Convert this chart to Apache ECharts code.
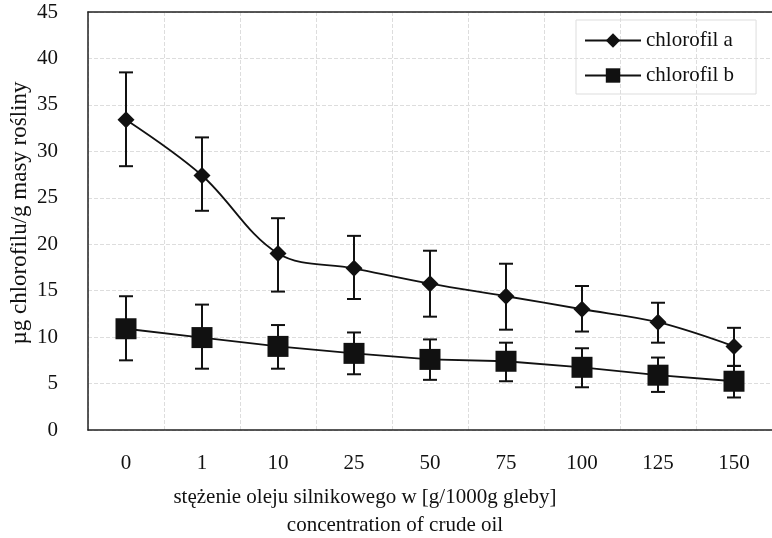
<!DOCTYPE html>
<html>
<head>
<meta charset="utf-8">
<script src="https://cdn.jsdelivr.net/npm/echarts@6/dist/echarts.min.js"></script>
<style>
  html, body { margin: 0; padding: 0; background: #fff; }
  #main { width: 772px; height: 538px; }
</style>
</head>
<body>
<div id="main"></div>
<script>
var dom = document.getElementById('main')
var chart = echarts.init(dom)

var categories = ['0', '1', '10', '25', '50', '75', '100', '125', '150']

// chlorofil a: mean, lower and upper end of error bar
var chlA = [33.4, 27.4, 19.0, 17.4, 15.75, 14.4, 13.0, 11.6, 9.0]
var chlALow = [28.4, 23.6, 14.9, 14.1, 12.2, 10.8, 10.6, 9.4, 6.9]
var chlAHigh = [38.5, 31.5, 22.8, 20.9, 19.3, 17.9, 15.5, 13.7, 11.0]

// chlorofil b
var chlB = [10.9, 9.95, 9.0, 8.25, 7.6, 7.4, 6.75, 5.9, 5.25]
var chlBLow = [7.5, 6.6, 6.6, 6.0, 5.4, 5.25, 4.6, 4.1, 3.5]
var chlBHigh = [14.4, 13.5, 11.3, 10.5, 9.75, 9.4, 8.8, 7.8, 6.9]

var font = '"Liberation Serif", "Times New Roman", serif'

function errorData(low, high) {
    return categories.map((c, i) => [i, low[i], high[i]])
}

function renderError(params, api) {
    var x = api.value(0)
    var lo = api.coord([x, api.value(1)])
    var hi = api.coord([x, api.value(2)])
    var w = 7
    var style = { stroke: '#111', lineWidth: 2, fill: null }
    return {
        type: 'group',
        children: [
            { type: 'line', shape: { x1: lo[0], y1: lo[1], x2: hi[0], y2: hi[1] }, style: style },
            { type: 'line', shape: { x1: hi[0] - w, y1: hi[1], x2: hi[0] + w, y2: hi[1] }, style: style },
            { type: 'line', shape: { x1: lo[0] - w, y1: lo[1], x2: lo[0] + w, y2: lo[1] }, style: style }
        ]
    }
}

var options = {
    backgroundColor: '#fff',
    animation: false,
    textStyle: { fontFamily: font },
    grid: { left: 88, right: 0, top: 12, bottom: 108, outerBoundsMode: 'none', containLabel: false },
    legend: {
        left: 576,
        top: 20,
        orient: 'vertical',
        itemGap: 14,
        itemWidth: 56,
        itemHeight: 18,
        padding: [10, 22, 8, 8],
        borderColor: '#ddd',
        borderWidth: 1,
        textStyle: { fontFamily: font, fontSize: 21, color: '#111' },
        data: ['chlorofil a', 'chlorofil b']
    },
    xAxis: [{
        type: 'category',
        data: categories,
        boundaryGap: true,
        axisLine: { lineStyle: { color: '#222', width: 1.5 } },
        axisTick: { show: false },
        axisLabel: { fontFamily: font, fontSize: 21, color: '#111', margin: 23 },
        splitLine: { show: true, lineStyle: { color: '#ddd', type: 'dashed' } }
    }, {
        type: 'category',
        position: 'top',
        data: categories,
        axisLine: { show: true, lineStyle: { color: '#222', width: 1.5 } },
        axisTick: { show: false },
        axisLabel: { show: false }
    }],
    yAxis: {
        type: 'value',
        min: 0,
        max: 45,
        interval: 5,
        axisLine: { show: true, lineStyle: { color: '#222', width: 1.5 } },
        axisTick: { show: false },
        axisLabel: { fontFamily: font, fontSize: 21, color: '#111', margin: 30 },
        splitLine: { show: true, lineStyle: { color: '#ddd', type: 'dashed' } }
    },
    graphic: [
        {
            type: 'text', x: 20, y: 213, rotation: Math.PI / 2,
            style: { text: 'µg chlorofilu/g masy rośliny', font: '23px ' + font, fill: '#111', textAlign: 'center', textVerticalAlign: 'middle' }
        },
        {
            type: 'text', x: 365, y: 487,
            style: { text: 'stężenie oleju silnikowego w [g/1000g gleby]', font: '21px ' + font, fill: '#111', textAlign: 'center' }
        },
        {
            type: 'text', x: 395, y: 515,
            style: { text: 'concentration of crude oil', font: '21px ' + font, fill: '#111', textAlign: 'center' }
        }
    ],
    series: [
        {
            name: 'chlorofil a',
            type: 'line',
            data: chlA,
            smooth: 0.35,
            symbol: 'diamond',
            symbolSize: 17,
            itemStyle: { color: '#111' },
            lineStyle: { color: '#111', width: 1.8 },
            z: 3
        },
        {
            name: 'chlorofil b',
            type: 'line',
            data: chlB,
            symbol: 'rect',
            symbolSize: 21,
            itemStyle: { color: '#111' },
            lineStyle: { color: '#111', width: 1.8 },
            z: 3
        },
        {
            type: 'custom',
            renderItem: renderError,
            data: errorData(chlALow, chlAHigh),
            encode: { x: 0, y: [1, 2] },
            z: 2
        },
        {
            type: 'custom',
            renderItem: renderError,
            data: errorData(chlBLow, chlBHigh),
            encode: { x: 0, y: [1, 2] },
            z: 2
        }
    ]
}

chart.setOption(options)
</script>
</body>
</html>
